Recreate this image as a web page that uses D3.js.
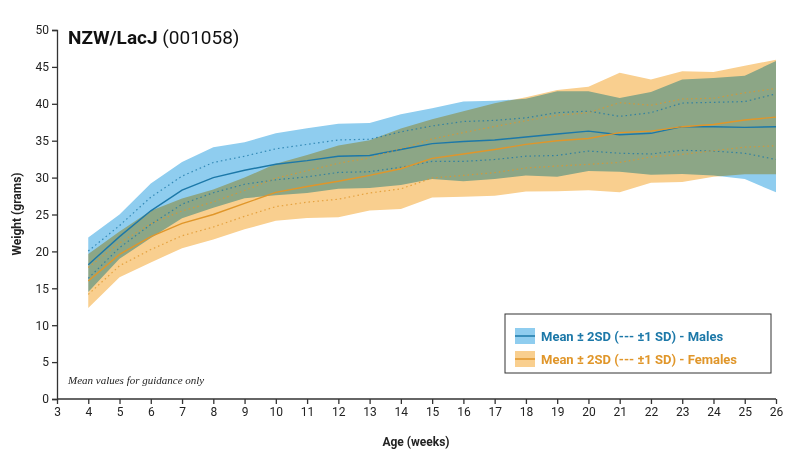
<!DOCTYPE html>
<html><head><meta charset="utf-8">
<script src="https://cdn.jsdelivr.net/npm/d3@7"></script>
<style>body{margin:0;background:#fff;font-family:Roboto,"DejaVu Sans",sans-serif}</style>
</head><body><svg id="chart" width="800" height="472"></svg>
<script>
var weeks = d3.range(4, 27);
var maleMean = [18.2,22,25.5,28.3,30,31,31.8,32.3,32.9,33,33.8,34.6,34.9,35.1,35.5,35.9,36.3,35.8,36,36.9,36.9,36.8,36.9];
var maleSd = [1.85,1.5,1.85,1.9,2.05,1.9,2.1,2.2,2.2,2.2,2.4,2.4,2.7,2.65,2.6,2.9,2.7,2.5,2.8,3.2,3.3,3.5,4.45];
var femaleMean = [16,19.6,22,23.8,25,26.5,28,28.8,29.5,30.3,31.2,32.6,33.2,33.8,34.5,35,35.3,36.1,36.3,36.9,37.2,37.8,38.2];
var femaleSd = [1.83,1.55,1.75,1.68,1.7,1.75,1.93,2.13,2.43,2.38,2.73,2.65,2.9,3.13,3.2,3.43,3.5,4.05,3.5,3.75,3.55,3.68,3.88];
var xTicks = d3.range(3, 27);
var yTicks = d3.range(0, 51, 5);

var svg = d3.select('#chart');
var x = d3.scaleLinear().domain([3, 26]).range([57, 776]);
var y = d3.scaleLinear().domain([0, 50]).range([399, 30]);

var series = [
  {mean: maleMean, sd: maleSd, fill: '#8fcdef', line: '#1c78a8', label: 'Mean \u00b1 2SD (--- \u00b11 SD) - Males'},
  {mean: femaleMean, sd: femaleSd, fill: '#f9cf8f', line: '#e0962a', label: 'Mean \u00b1 2SD (--- \u00b11 SD) - Females'}
];

var bands = svg.append('g');
series.forEach(function(s) {
  var area = d3.area()
    .x(function(d, i) { return x(weeks[i]); })
    .y0(function(d, i) { return y(s.mean[i] - 2 * s.sd[i]); })
    .y1(function(d, i) { return y(s.mean[i] + 2 * s.sd[i]); });
  bands.append('path').attr('d', area(s.mean)).attr('fill', s.fill)
    .style('mix-blend-mode', 'multiply');
});

series.forEach(function(s) {
  [-1, 1].forEach(function(k) {
    var l = d3.line().x(function(d, i) { return x(weeks[i]); })
      .y(function(d, i) { return y(s.mean[i] + k * s.sd[i]); });
    svg.append('path').attr('d', l(s.mean)).attr('fill', 'none')
      .attr('stroke', s.line).attr('stroke-width', 1.2).attr('stroke-dasharray', '1.5,3').attr('opacity', 0.8);
  });
  var m = d3.line().x(function(d, i) { return x(weeks[i]); }).y(function(d) { return y(d); });
  svg.append('path').attr('d', m(s.mean)).attr('fill', 'none')
    .attr('stroke', s.line).attr('stroke-width', 1.4);
});

// axes
var xAxis = svg.append('g').attr('transform', 'translate(0,399)')
  .call(d3.axisBottom(x).tickValues(xTicks).tickSize(5).tickFormat(d3.format('d')));
var yAxis = svg.append('g').attr('transform', 'translate(57,0)')
  .call(d3.axisLeft(y).tickValues(yTicks).tickSize(5));
[xAxis, yAxis].forEach(function(a) {
  a.selectAll('path,line').attr('stroke', '#333').attr('stroke-width', 1.3);
  a.selectAll('text').attr('font-size', 12).attr('fill', '#222').attr('font-family', 'Roboto');
});
xAxis.select('.domain').attr('d', 'M57,0H776');

svg.append('text').attr('x', 416).attr('y', 446).attr('text-anchor', 'middle')
  .attr('font-size', 12).attr('font-weight', 'bold').attr('fill', '#222').text('Age (weeks)');
svg.append('text').attr('transform', 'translate(21,214) rotate(-90)').attr('text-anchor', 'middle')
  .attr('font-size', 12).attr('font-weight', 'bold').attr('fill', '#222').text('Weight (grams)');

var title = svg.append('text').attr('x', 68).attr('y', 44).attr('font-size', 19).attr('fill', '#111');
title.append('tspan').attr('font-weight', 'bold').text('NZW/LacJ ');
title.append('tspan').text('(001058)');

svg.append('text').attr('x', 68).attr('y', 384).attr('font-size', 11).attr('font-style', 'italic')
  .attr('font-family', 'Liberation Serif, serif').attr('fill', '#222').text('Mean values for guidance only');

// legend
var lg = svg.append('g');
lg.append('rect').attr('x', 505).attr('y', 314).attr('width', 266).attr('height', 59)
  .attr('fill', '#fff').attr('stroke', '#333').attr('stroke-width', 1);
series.forEach(function(s, i) {
  var yy = 336 + i * 23;
  lg.append('rect').attr('x', 515).attr('y', yy - 8).attr('width', 20).attr('height', 16).attr('fill', s.fill);
  lg.append('line').attr('x1', 515).attr('x2', 535).attr('y1', yy).attr('y2', yy)
    .attr('stroke', s.line).attr('stroke-width', 1.5);
  lg.append('text').attr('x', 541).attr('y', yy + 5).attr('font-size', 13).attr('font-weight', 'bold')
    .attr('fill', s.line).text(s.label);
});
</script></body></html>
